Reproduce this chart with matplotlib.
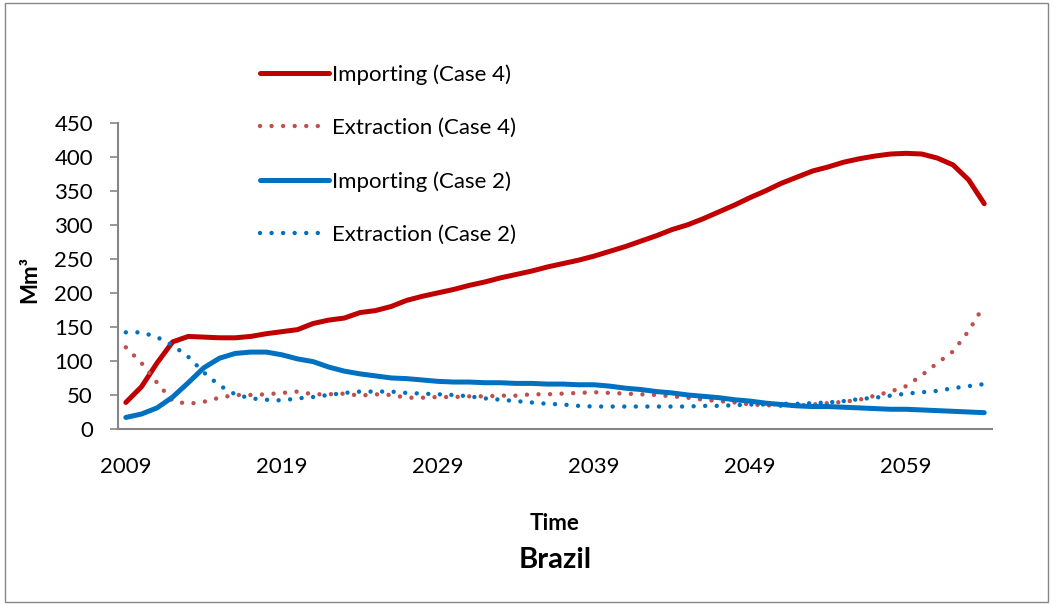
import numpy as np
import matplotlib
matplotlib.use("Agg")
import matplotlib.pyplot as plt
from matplotlib.patches import Rectangle

plt.rcParams['font.family'] = ['Lato', 'DejaVu Sans']

# godine 2009..2064
years = list(range(2009, 2065))

importing_case4 = [39, 62, 97, 128, 136, 135, 134, 134, 136, 140,
                   143, 146, 155, 160, 163, 171, 174, 180, 189, 195,
                   200, 205, 211, 216, 222, 227, 232, 238, 243, 248,
                   254, 261, 268, 276, 284, 293, 300, 309, 319, 329,
                   340, 350, 361, 370, 379, 385, 392, 397, 401, 404,
                   405, 404, 398, 388, 366, 331]
extraction_case4 = [120, 97, 68, 41, 37, 40, 46, 50, 50, 51,
                    53, 55, 51, 51, 52, 49, 51, 50, 46, 46,
                    47, 47, 48, 48, 49, 49, 51, 51, 52, 53,
                    54, 53, 52, 51, 50, 48, 46, 43, 41, 39,
                    36, 35, 34, 34, 36, 38, 40, 43, 49, 55,
                    63, 79, 97, 114, 144, 182]
importing_case2 = [17, 22, 31, 47, 68, 90, 104, 111, 113, 113,
                   109, 103, 99, 91, 85, 81, 78, 75, 74, 72,
                   70, 69, 69, 68, 68, 67, 67, 66, 66, 65,
                   65, 63, 60, 58, 55, 53, 50, 48, 46, 43,
                   41, 38, 36, 34, 33, 33, 32, 31, 30, 29,
                   29, 28, 27, 26, 25, 24]
extraction_case2 = [142, 142, 135, 123, 106, 83, 64, 51, 45, 43,
                    42, 45, 47, 50, 53, 55, 55, 55, 53, 52,
                    51, 50, 48, 45, 43, 41, 39, 37, 36, 34,
                    33, 33, 33, 33, 33, 33, 33, 34, 34, 35,
                    36, 36, 37, 37, 38, 39, 41, 44, 46, 49,
                    52, 54, 56, 60, 63, 66]

xticks = [2009, 2019, 2029, 2039, 2049, 2059]
yticks = list(range(0, 451, 50))

fig = plt.figure(figsize=(10.52, 6.05), dpi=100)
ax = fig.add_axes([0.1122, 0.2909, 0.8308, 0.5063])

dot = (0, (0.001, 2.6))
ax.plot(years, importing_case4, color="#C00000", lw=3.6, solid_capstyle="round",
        label="Importing (Case 4)")
ax.plot(years, extraction_case4, color="#C0504D", lw=3.2, linestyle=dot,
        dash_capstyle="round", label="Extraction (Case 4)")
ax.plot(years, importing_case2, color="#0070C0", lw=3.6, solid_capstyle="round",
        label="Importing (Case 2)")
ax.plot(years, extraction_case2, color="#0070C0", lw=3.2, linestyle=dot,
        dash_capstyle="round", label="Extraction (Case 2)")

ax.set_xlim(2008.5, 2064.5)
ax.set_ylim(0, 450)
ax.set_xticks(xticks)
ax.set_yticks(yticks)
ax.tick_params(axis="x", length=0, pad=20, labelsize=16)
ax.tick_params(axis="y", length=6, width=1.2, color="#868686", pad=12, labelsize=16)
for s in ["top", "right"]:
    ax.spines[s].set_visible(False)
for s in ["left", "bottom"]:
    ax.spines[s].set_color("#868686")
    ax.spines[s].set_linewidth(1.5)

leg = ax.legend(loc="upper left", bbox_to_anchor=(240 / 1052, 1 - 44 / 605),
                bbox_transform=fig.transFigure, frameon=False, fontsize=16,
                handlelength=3.1, handletextpad=0.15, labelspacing=1.5)

fig.text(30 / 1052, 1 - 279 / 605, "Mm³", rotation=90, ha="center", va="center",
         fontsize=16, fontweight="bold")
fig.text(555 / 1052, 1 - 523 / 605, "Time", ha="center", va="center",
         fontsize=16, fontweight="bold")
fig.text(555 / 1052, 1 - 560 / 605, "Brazil", ha="center", va="center",
         fontsize=21, fontweight="bold")

fig.patches.append(Rectangle((5 / 1052, 3 / 605), 1043 / 1052, 599 / 605,
                             transform=fig.transFigure, fill=False,
                             edgecolor="#868686", linewidth=1))

fig.savefig("out.png", dpi=100)
